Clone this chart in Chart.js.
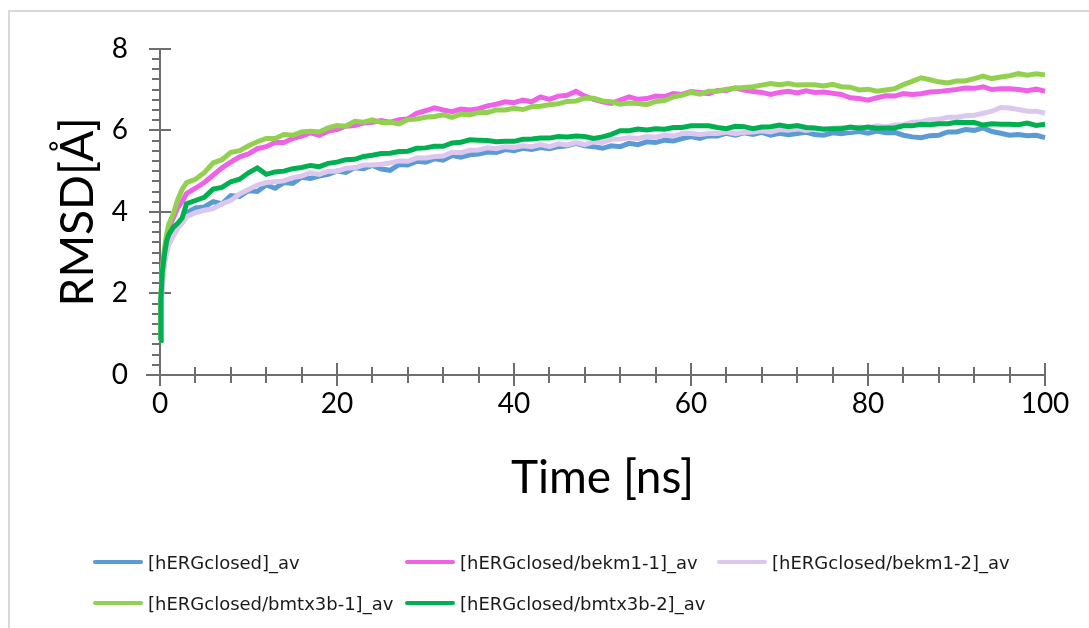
<!DOCTYPE html>
<html>
<head>
<meta charset="utf-8">
<script src="https://cdn.jsdelivr.net/npm/chart.js@4.4.0/dist/chart.umd.min.js"></script>
<style>
  html, body { margin: 0; padding: 0; background: #fff; }
  #wrap { position: relative; width: 1089px; height: 628px; overflow: hidden; }
  #frame { position: absolute; left: 8px; top: 10px; width: 1200px; height: 700px; border: 2px solid #d9d9d9; }
  #cChart { position: absolute; left: 0; top: 0; }
  #legend { position: absolute; left: 93px; top: 551px; font-family: "DejaVu Sans", sans-serif; font-size: 18px; color: #1a1a1a;
            display: grid; grid-template-columns: 312px 312px 320px; row-gap: 19px; }
  .item { display: flex; align-items: center; height: 22px; white-space: nowrap; }
  .swatch { width: 50px; height: 4px; border-radius: 2px; margin-right: 5px; }
</style>
</head>
<body>
<div id="wrap">
  <div id="frame"></div>
  <canvas id="cChart" width="1089" height="628"></canvas>
  <div id="legend"></div>
</div>
<script>
const names = ['[hERGclosed]_av', '[hERGclosed/bekm1-1]_av', '[hERGclosed/bekm1-2]_av',
               '[hERGclosed/bmtx3b-1]_av', '[hERGclosed/bmtx3b-2]_av'];
const colors = ['#5b9bd5', '#ee62e8', '#dcc8ee', '#92d050', '#00b050'];

// time in ns
const times = [0, 0.1, 0.25, 0.5, 0.75, 1, 1.5, 2, 2.5, 3,
  4, 5, 6, 7, 8, 9,
  10, 11, 12, 13, 14, 15, 16, 17, 18, 19,
  20, 21, 22, 23, 24, 25, 26, 27, 28, 29,
  30, 31, 32, 33, 34, 35, 36, 37, 38, 39,
  40, 41, 42, 43, 44, 45, 46, 47, 48, 49,
  50, 51, 52, 53, 54, 55, 56, 57, 58, 59,
  60, 61, 62, 63, 64, 65, 66, 67, 68, 69,
  70, 71, 72, 73, 74, 75, 76, 77, 78, 79,
  80, 81, 82, 83, 84, 85, 86, 87, 88, 89,
  90, 91, 92, 93, 94, 95, 96, 97, 98, 99,
  100];

const hergClosed = [0.85, 1.7, 2.3, 2.8, 3.1, 3.3, 3.5, 3.62, 3.78, 3.98,
  4.1, 4.12, 4.25, 4.2, 4.4, 4.38,
  4.52, 4.5, 4.66, 4.58, 4.72, 4.7, 4.85, 4.82, 4.88, 4.92,
  5.0, 4.97, 5.08, 5.06, 5.14, 5.05, 5.02, 5.16, 5.15, 5.24,
  5.22, 5.3, 5.27, 5.38, 5.34, 5.4, 5.42, 5.47, 5.46, 5.53,
  5.5, 5.56, 5.53, 5.58, 5.55, 5.6, 5.62, 5.68, 5.62, 5.6,
  5.56, 5.62, 5.6, 5.68, 5.65, 5.72, 5.7, 5.76, 5.74, 5.8,
  5.85, 5.8, 5.87, 5.86, 5.93, 5.88, 5.94, 5.9, 5.95, 5.88,
  5.93, 5.89, 5.92, 5.95, 5.9, 5.88, 5.94, 5.92, 5.95, 5.97,
  5.93, 5.98, 5.94, 5.95, 5.88, 5.84, 5.82, 5.87, 5.88, 5.96,
  5.96, 6.02, 6.0, 6.06, 5.97, 5.93, 5.88, 5.9, 5.87, 5.88,
  5.82];

const bekm1_1 = [0.85, 1.8, 2.4, 2.9, 3.35, 3.6, 3.85, 4.1, 4.25, 4.45,
  4.58, 4.72, 4.9, 5.08, 5.22, 5.35,
  5.42, 5.55, 5.6, 5.7, 5.7, 5.8, 5.86, 5.94, 5.88, 5.98,
  6.02, 6.1, 6.12, 6.18, 6.2, 6.24, 6.2, 6.26, 6.28, 6.42,
  6.48, 6.55, 6.5, 6.46, 6.52, 6.5, 6.53, 6.6, 6.64, 6.7,
  6.68, 6.74, 6.7, 6.82, 6.76, 6.84, 6.86, 6.96, 6.84, 6.76,
  6.7, 6.66, 6.74, 6.82, 6.76, 6.78, 6.84, 6.83, 6.9, 6.88,
  6.95, 6.93, 6.9, 6.98, 6.98, 7.04, 6.99, 6.95, 6.93, 6.88,
  6.93, 6.96, 6.92, 6.97, 6.93, 6.94, 6.91, 6.88, 6.8, 6.78,
  6.74, 6.8, 6.85, 6.84, 6.9, 6.88, 6.9, 6.94, 6.95, 6.98,
  7.0, 7.04, 7.03, 7.07, 7.0, 7.02, 7.02, 7.0, 6.97, 7.01,
  6.96];

const bekm1_2 = [0.85, 1.6, 2.2, 2.7, 3.0, 3.2, 3.4, 3.6, 3.72, 3.88,
  3.98, 4.04, 4.08, 4.2, 4.28, 4.44,
  4.55, 4.66, 4.72, 4.74, 4.76, 4.84, 4.88, 4.96, 4.92, 5.0,
  5.0, 5.07, 5.08, 5.15, 5.15, 5.17, 5.2, 5.25, 5.24, 5.32,
  5.32, 5.36, 5.37, 5.46, 5.45, 5.51, 5.52, 5.57, 5.55, 5.6,
  5.58, 5.62, 5.6, 5.65, 5.6, 5.67, 5.64, 5.7, 5.65, 5.72,
  5.7, 5.78, 5.79, 5.82, 5.8, 5.85, 5.83, 5.88, 5.86, 5.92,
  5.92, 5.9, 5.92, 5.92, 5.96, 5.92, 5.95, 5.96, 5.99, 5.96,
  6.02, 6.0, 6.04, 6.0, 6.03, 6.04, 6.05, 6.07, 6.04, 6.08,
  6.06, 6.11, 6.08, 6.13, 6.14, 6.2, 6.21, 6.26, 6.27, 6.32,
  6.32, 6.36, 6.37, 6.42, 6.47, 6.56, 6.55, 6.51, 6.47, 6.47,
  6.42];

const bmtx3b_1 = [0.85, 1.9, 2.6, 3.1, 3.45, 3.7, 3.95, 4.3, 4.55, 4.72,
  4.8, 4.96, 5.2, 5.28, 5.46, 5.5,
  5.62, 5.72, 5.8, 5.8, 5.9, 5.88, 5.96, 5.98, 5.96, 6.06,
  6.12, 6.1, 6.22, 6.2, 6.26, 6.19, 6.2, 6.16, 6.26, 6.28,
  6.32, 6.34, 6.38, 6.32, 6.4, 6.38, 6.44, 6.44, 6.5, 6.5,
  6.54, 6.51, 6.58, 6.59, 6.63, 6.65, 6.71, 6.72, 6.79, 6.79,
  6.72, 6.7, 6.64, 6.67, 6.66, 6.63, 6.71, 6.73, 6.82, 6.86,
  6.93, 6.89, 6.96, 6.96, 7.01, 7.03, 7.05, 7.07, 7.11, 7.15,
  7.12, 7.15, 7.11, 7.12, 7.12, 7.09, 7.13, 7.07, 7.06, 6.99,
  7.01, 6.96, 6.99, 7.02, 7.12, 7.2, 7.29, 7.24, 7.19, 7.16,
  7.21, 7.21, 7.27, 7.33, 7.27, 7.31, 7.34, 7.39, 7.35, 7.39,
  7.36];

const bmtx3b_2 = [0.85, 1.85, 2.5, 2.95, 3.28, 3.45, 3.62, 3.72, 3.85, 4.2,
  4.28, 4.36, 4.56, 4.6, 4.74, 4.8,
  4.96, 5.08, 4.92, 4.98, 5.0, 5.06, 5.09, 5.14, 5.11, 5.19,
  5.22, 5.28, 5.29, 5.36, 5.39, 5.43, 5.44, 5.48, 5.49, 5.56,
  5.57, 5.61, 5.61, 5.69, 5.71, 5.77, 5.76, 5.75, 5.72, 5.73,
  5.73, 5.78, 5.79, 5.81, 5.81, 5.85, 5.84, 5.86, 5.85, 5.8,
  5.84, 5.9, 5.99, 5.99, 6.03, 6.01, 6.04, 6.03, 6.07, 6.07,
  6.11, 6.11, 6.11, 6.07, 6.04, 6.1, 6.09, 6.04, 6.08, 6.09,
  6.13, 6.09, 6.12, 6.07, 6.06, 6.03, 6.04, 6.04, 6.08, 6.05,
  6.08, 6.05, 6.06, 6.06, 6.11, 6.11, 6.15, 6.14, 6.16, 6.16,
  6.2, 6.19, 6.19, 6.13, 6.16, 6.15, 6.15, 6.14, 6.18, 6.12,
  6.15];

const series = [hergClosed, bekm1_1, bekm1_2, bmtx3b_1, bmtx3b_2];

const yTicks = [0, 2, 4, 6, 8];
const xTicks = [0, 20, 40, 60, 80, 100];

const axisColor = '#6e6e6e';

// excel style axes: lines crossing ticks, minor ticks
const excelAxes = {
  id: 'excelAxes',
  beforeDatasetsDraw(chart) {
    const ctx = chart.ctx, x = chart.scales.x, y = chart.scales.y;
    const x0 = x.getPixelForValue(0), y0 = y.getPixelForValue(0);
    ctx.save();
    ctx.strokeStyle = axisColor;
    ctx.lineWidth = 2;
    ctx.beginPath();
    ctx.moveTo(x0, y0); ctx.lineTo(x0, y.getPixelForValue(8));
    ctx.moveTo(x0 - 14, y0); ctx.lineTo(x.getPixelForValue(100), y0);
    for (let v = 0; v <= 8.001; v += 0.25) {
      const py = Math.round(y.getPixelForValue(v));
      if (Math.abs(v % 2) < 0.001) { ctx.moveTo(x0 - 11, py); ctx.lineTo(x0 + 11, py); }
      else { ctx.moveTo(x0 - 8, py); ctx.lineTo(x0, py); }
    }
    for (let t = 0; t <= 100; t += 4) {
      const px = Math.round(x.getPixelForValue(t));
      if (t % 20 === 0) { ctx.moveTo(px, y0 - 12); ctx.lineTo(px, y0 + 11); }
      else { ctx.moveTo(px, y0 - 8); ctx.lineTo(px, y0 + 8); }
    }
    ctx.stroke();
    ctx.restore();
  }
};

const data = {
  datasets: series.map((vals, i) => ({
    label: names[i],
    data: times.map((t, k) => ({x: t, y: vals[k]})),
    borderColor: colors[i],
    borderWidth: 5,
    pointRadius: 0,
    tension: 0,
    clip: false,
    order: series.length - i
  }))
};

const config = {
  type: 'line',
  data: data,
  options: {
    responsive: false,
    animation: false,
    events: [],
    layout: { padding: { top: 45, right: 44, left: 0, bottom: 0 } },
    plugins: { legend: { display: false }, tooltip: { enabled: false } },
    scales: {
      x: {
        type: 'linear', min: 0, max: 100,
        afterFit: s => { s.height = 253; },
        afterBuildTicks: s => { s.ticks = xTicks.map(v => ({value: v})); },
        grid: { display: false, drawTicks: false },
        border: { display: false },
        ticks: { padding: 12, color: '#000', font: { family: 'Lato', size: 28 } },
        title: { display: true, text: 'Time [ns]', color: '#000', font: { family: 'Lato', size: 46 }, padding: { top: 0, bottom: 122 } }
      },
      y: {
        min: 0, max: 8,
        afterFit: s => { s.width = 160; },
        afterBuildTicks: s => { s.ticks = yTicks.map(v => ({value: v})); },
        grid: { display: false, drawTicks: false },
        border: { display: false },
        ticks: { padding: 32, color: '#000', font: { family: 'Lato', size: 28 } },
        title: { display: true, text: 'RMSD[Å]', color: '#000', font: { family: 'Lato', size: 46 }, padding: { top: 51, bottom: 0 } }
      }
    }
  },
  plugins: [excelAxes]
};

const cChart = new Chart(document.getElementById('cChart'), config);

const legend = document.getElementById('legend');
names.forEach((n, i) => {
  const item = document.createElement('div');
  item.className = 'item';
  item.innerHTML = '<span class="swatch" style="background:' + colors[i] + '"></span><span>' + n + '</span>';
  legend.appendChild(item);
});
</script>
</body>
</html>
